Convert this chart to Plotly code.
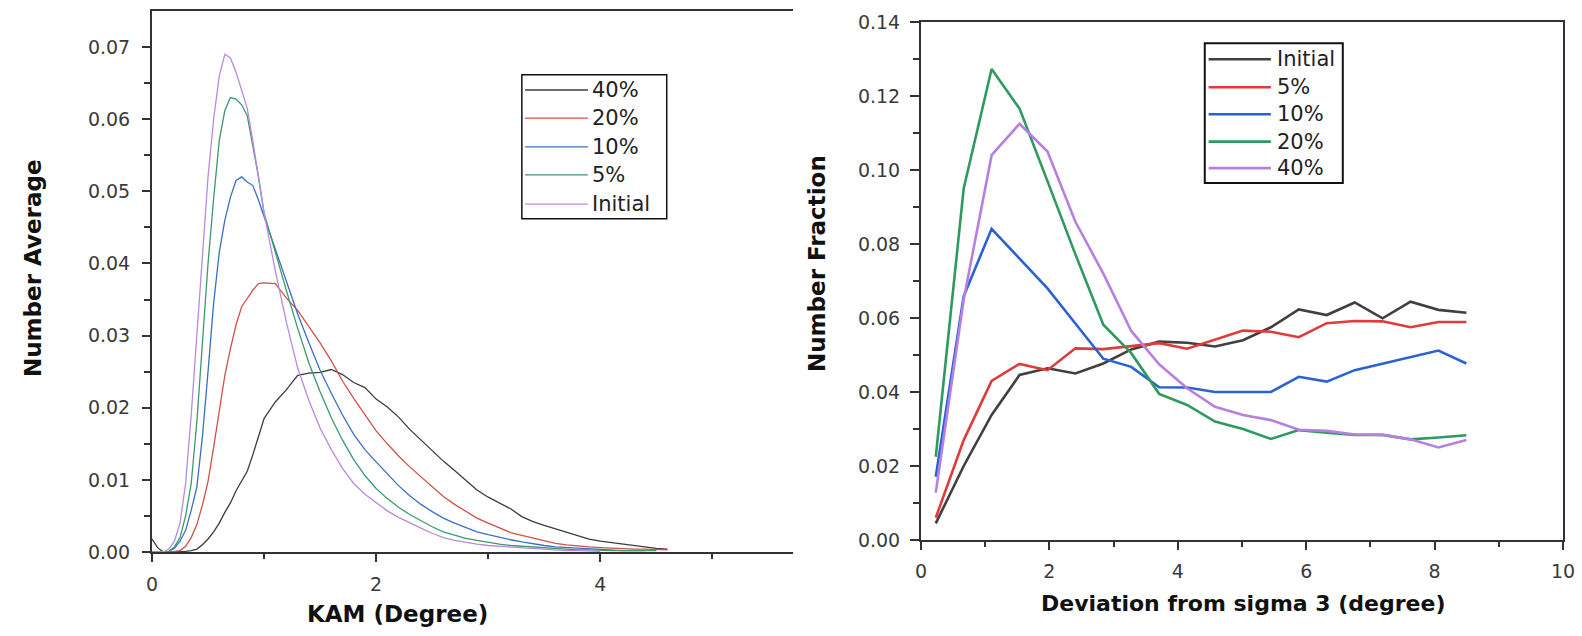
import plotly.graph_objects as go

# ---------------- Left panel: KAM distribution ----------------
KAM_X = [0.00, 0.05, 0.10, 0.15, 0.20, 0.25, 0.30, 0.35, 0.40, 0.45, 0.50, 0.55, 0.60, 0.65,
         0.70, 0.75, 0.80, 0.85, 0.90, 0.95, 1.00, 1.1, 1.2, 1.3, 1.4, 1.5, 1.6, 1.7, 1.8, 1.9,
         2.0, 2.1, 2.2, 2.3, 2.4, 2.5, 2.6, 2.7, 2.8, 2.9, 3.0, 3.1, 3.2, 3.3, 3.4, 3.5, 3.6,
         3.7, 3.8, 3.9, 4.0, 4.1, 4.2, 4.3, 4.4, 4.5, 4.6, 4.7]

KAM_40 = [0.0018, 0.0006, 0.0, 0.0, 0.0, 0.0, 0.0001, 0.0002, 0.0004, 0.0010, 0.0018, 0.0028,
          0.0040, 0.0055, 0.0068, 0.0085, 0.0098, 0.0112, 0.0135, 0.0160, 0.0185, 0.0208, 0.0225,
          0.0245, 0.0248, 0.0249, 0.0253, 0.0246, 0.0235, 0.0228, 0.0212, 0.0201, 0.0187, 0.0170,
          0.0155, 0.0140, 0.0126, 0.0113, 0.0099, 0.0086, 0.0076, 0.0068, 0.0060, 0.0049, 0.0042,
          0.0037, 0.0032, 0.0027, 0.0022, 0.0018, 0.0015, 0.0013, 0.0010, 0.0008, 0.0007, 0.0005,
          0.0004, None]
KAM_20 = [0.0, 0.0, 0.0, 0.0, 0.0001, 0.0002, 0.0008, 0.0020, 0.0038, 0.0065, 0.0098, 0.0145,
          0.0195, 0.0245, 0.0282, 0.0315, 0.0340, 0.0352, 0.0363, 0.0372, 0.0373, 0.0372, 0.0352,
          0.0335, 0.0312, 0.0290, 0.0265, 0.0237, 0.0213, 0.0190, 0.0168, 0.0150, 0.0133, 0.0118,
          0.0104, 0.0090, 0.0077, 0.0066, 0.0056, 0.0047, 0.0040, 0.0033, 0.0027, 0.0023, 0.0019,
          0.0015, 0.0012, 0.0010, 0.0008, 0.0007, 0.0006, 0.0005, 0.0005, 0.0004, 0.0004, 0.0004,
          0.0003, None]
KAM_10 = [0.0, 0.0, 0.0, 0.0001, 0.0005, 0.0015, 0.0030, 0.0058, 0.0090, 0.0160, 0.0250, 0.0345,
          0.0415, 0.0460, 0.0492, 0.0515, 0.0520, 0.0513, 0.0508, 0.0488, 0.0465, 0.0420, 0.0372,
          0.0330, 0.0290, 0.0252, 0.0220, 0.0190, 0.0163, 0.0142, 0.0125, 0.0108, 0.0092, 0.0078,
          0.0066, 0.0056, 0.0047, 0.0040, 0.0034, 0.0028, 0.0024, 0.0020, 0.0017, 0.0014, 0.0011,
          0.0009, 0.0007, 0.0006, 0.0005, 0.0004, 0.0003, 0.0003, 0.0002, 0.0002, 0.0002, None,
          None, None]
KAM_5 = [0.0, 0.0, 0.0, 0.0001, 0.0007, 0.0020, 0.0050, 0.0095, 0.0180, 0.0285, 0.0400, 0.0490,
         0.0570, 0.0612, 0.0630, 0.0628, 0.0620, 0.0605, 0.0565, 0.0520, 0.0470, 0.0415, 0.0362,
         0.0310, 0.0262, 0.0222, 0.0186, 0.0155, 0.0128, 0.0106, 0.0088, 0.0074, 0.0062, 0.0052,
         0.0043, 0.0035, 0.0028, 0.0023, 0.0019, 0.0016, 0.0013, 0.0011, 0.0009, 0.0008, 0.0006,
         0.0005, 0.0004, 0.0004, 0.0003, 0.0003, 0.0002, 0.0002, 0.0002, 0.0002, 0.0002, 0.0002,
         None, None]
KAM_INIT = [0.0, 0.0, 0.0, 0.0004, 0.0015, 0.0040, 0.0095, 0.0190, 0.0300, 0.0420, 0.0520, 0.0600,
            0.0660, 0.0690, 0.0685, 0.0665, 0.0640, 0.0615, 0.0570, 0.0520, 0.0470, 0.0390, 0.0318,
            0.0255, 0.0210, 0.0172, 0.0142, 0.0116, 0.0095, 0.0080, 0.0068, 0.0057, 0.0048, 0.0040,
            0.0033, 0.0026, 0.0020, 0.0016, 0.0013, 0.0011, 0.0009, 0.0008, 0.0006, 0.0005, 0.0004,
            0.0003, 0.0003, 0.0002, 0.0002, 0.0002, 0.0001, None, None, None, None, None, None, None]

LEFT_NAMES = ["40%", "20%", "10%", "5%", "Initial"]
LEFT_SERIES = [KAM_40, KAM_20, KAM_10, KAM_5, KAM_INIT]
LEFT_COLORS = ["#3c3c3c", "#d2504a", "#3b6fc0", "#3a9a6c", "#b98ae0"]

LEFT_YTICKS = [0.00, 0.01, 0.02, 0.03, 0.04, 0.05, 0.06, 0.07]
LEFT_XTICKS = [0, 2, 4]

# ---------------- Right panel: deviation from sigma 3 ----------------
DEV_X = [0.23, 0.665, 1.1, 1.535, 1.97, 2.405, 2.84, 3.275, 3.71, 4.145, 4.58, 5.015, 5.45,
         5.885, 6.32, 6.755, 7.19, 7.625, 8.06, 8.495]
DEV_INIT = [0.0045, 0.0200, 0.0338, 0.0446, 0.0464, 0.0450, 0.0477, 0.0515, 0.0536, 0.0533,
            0.0523, 0.0540, 0.0575, 0.0623, 0.0608, 0.0642, 0.0599, 0.0644, 0.0622, 0.0614]
DEV_5 = [0.0060, 0.0270, 0.0430, 0.0476, 0.0459, 0.0518, 0.0516, 0.0525, 0.0532, 0.0517,
         0.0542, 0.0566, 0.0563, 0.0548, 0.0586, 0.0592, 0.0591, 0.0575, 0.0589, 0.0589]
DEV_10 = [0.0171, 0.0659, 0.0841, 0.0760, 0.0680, 0.0585, 0.0490, 0.0468, 0.0413, 0.0412,
          0.0400, 0.0400, 0.0400, 0.0441, 0.0428, 0.0459, 0.0477, 0.0494, 0.0512, 0.0477]
DEV_20 = [0.0225, 0.0950, 0.1273, 0.1166, 0.0970, 0.0772, 0.0582, 0.0505, 0.0395, 0.0365,
          0.0320, 0.0300, 0.0273, 0.0297, 0.0290, 0.0284, 0.0284, 0.0272, 0.0277, 0.0283]
DEV_40 = [0.0128, 0.0650, 0.1040, 0.1125, 0.1050, 0.0860, 0.0720, 0.0565, 0.0475, 0.0410,
          0.0360, 0.0338, 0.0324, 0.0298, 0.0295, 0.0285, 0.0284, 0.0272, 0.0250, 0.0270]

RIGHT_NAMES = ["Initial", "5%", "10%", "20%", "40%"]
RIGHT_SERIES = [DEV_INIT, DEV_5, DEV_10, DEV_20, DEV_40]
RIGHT_COLORS = ["#404040", "#e03b3b", "#2a63d0", "#2f9a5f", "#b580e0"]

RIGHT_YTICKS = [0.00, 0.02, 0.04, 0.06, 0.08, 0.10, 0.12, 0.14]
RIGHT_XTICKS = [0, 2, 4, 6, 8, 10]

# ---------------- Figure ----------------
W, H = 1582, 636
AX = "#333333"
TICKFONT = dict(family="DejaVu Sans", size=19, color="#3a3a3a")
TITLEFONT = dict(family="DejaVu Sans", size=23, color="#111111")

fig = go.Figure()

for name, ys, col in zip(LEFT_NAMES, LEFT_SERIES, LEFT_COLORS):
    fig.add_trace(go.Scatter(x=KAM_X, y=ys, name=name, mode="lines",
                             line=dict(color=col, width=1.3), xaxis="x", yaxis="y",
                             connectgaps=False))

for name, ys, col in zip(RIGHT_NAMES, RIGHT_SERIES, RIGHT_COLORS):
    fig.add_trace(go.Scatter(x=DEV_X, y=ys, name=name, mode="lines",
                             line=dict(color=col, width=2.6), xaxis="x2", yaxis="y2"))

common_axis = dict(showgrid=False, zeroline=False, showline=True, linecolor=AX, linewidth=2,
                   ticks="outside", tickcolor=AX, tickwidth=2, tickfont=TICKFONT,
                   automargin=False)

fig.update_layout(
    width=W, height=H,
    margin=dict(l=0, r=0, t=0, b=0, pad=0),
    paper_bgcolor="white", plot_bgcolor="white",
    showlegend=False,
    xaxis=dict(domain=[152 / W, 793 / W], range=[0, 5.72], tickvals=LEFT_XTICKS,
               ticktext=[str(v) for v in LEFT_XTICKS], ticklen=8, mirror=True,
               ticklabelstandoff=6,
               minor=dict(tickvals=[1, 3, 5], ticks="outside", ticklen=5, tickwidth=2,
                          tickcolor=AX),
               **common_axis),
    yaxis=dict(domain=[84 / H, 625 / H], range=[0, 0.075], tickvals=LEFT_YTICKS,
               ticktext=[f"{v:.2f}" for v in LEFT_YTICKS], ticklen=8, mirror=False,
               ticklabelstandoff=8,
               minor=dict(tickvals=[0.005, 0.015, 0.025, 0.035, 0.045, 0.055, 0.065],
                          ticks="outside", ticklen=6, tickwidth=2, tickcolor=AX),
               **common_axis),
    xaxis2=dict(domain=[921 / W, 1563 / W], range=[0, 10], tickvals=RIGHT_XTICKS,
                ticktext=[str(v) for v in RIGHT_XTICKS], ticklen=8, mirror=True,
                ticklabelstandoff=5,
                minor=dict(tickvals=[1, 3, 5, 7, 9], ticks="outside", ticklen=5, tickwidth=2,
                           tickcolor=AX),
                anchor="y2", **common_axis),
    yaxis2=dict(domain=[96 / H, 614 / H], range=[0, 0.14], tickvals=RIGHT_YTICKS,
                ticktext=[f"{v:.2f}" for v in RIGHT_YTICKS], ticklen=9, mirror=True,
                ticklabelstandoff=6,
                minor=dict(tickvals=[0.01, 0.03, 0.05, 0.07, 0.09, 0.11, 0.13],
                           ticks="outside", ticklen=6, tickwidth=2, tickcolor=AX),
                anchor="x2", **common_axis),
)

# Axis titles
annotations = [
    dict(text="<b>KAM (Degree)</b>", x=397 / W, y=1 - 614 / H, xref="paper", yref="paper",
         showarrow=False, font=TITLEFONT, xanchor="center", yanchor="middle"),
    dict(text="<b>Number Average</b>", x=33 / W, y=1 - 268 / H, xref="paper", yref="paper",
         showarrow=False, font=TITLEFONT, textangle=-90, xanchor="center", yanchor="middle"),
    dict(text="<b>Deviation from sigma 3 (degree)</b>", x=1243 / W, y=1 - 603 / H,
         xref="paper", yref="paper", showarrow=False,
         font=dict(family="DejaVu Sans", size=22, color="#111111"),
         xanchor="center", yanchor="middle"),
    dict(text="<b>Number Fraction</b>", x=817 / W, y=1 - 264 / H, xref="paper", yref="paper",
         showarrow=False, font=TITLEFONT, textangle=-90, xanchor="center", yanchor="middle"),
]
shapes = []

LEGFONT = dict(family="DejaVu Sans", size=21, color="#222222")

# Left legend (box + line samples + labels), in axis-domain coordinates
shapes.append(dict(type="rect", xref="x domain", yref="y domain", x0=0.577, x1=0.803,
                   y0=0.616, y1=0.882, line=dict(color="#111111", width=1.5)))
left_rows = [0.854, 0.802, 0.749, 0.697, 0.643]
for name, col, yy in zip(LEFT_NAMES, LEFT_COLORS, left_rows):
    shapes.append(dict(type="line", xref="x domain", yref="y domain", x0=0.582, x1=0.680,
                       y0=yy, y1=yy, line=dict(color=col, width=1.3)))
    annotations.append(dict(text=name, xref="x domain", yref="y domain", x=0.684, y=yy,
                            xanchor="left", yanchor="middle", showarrow=False, font=LEGFONT))

# Right legend
shapes.append(dict(type="rect", xref="x2 domain", yref="y2 domain", x0=0.442, x1=0.657,
                   y0=0.689, y1=0.959, line=dict(color="#111111", width=2)))
right_rows = [0.928, 0.874, 0.822, 0.769, 0.718]
for name, col, yy in zip(RIGHT_NAMES, RIGHT_COLORS, right_rows):
    shapes.append(dict(type="line", xref="x2 domain", yref="y2 domain", x0=0.448, x1=0.545,
                       y0=yy, y1=yy, line=dict(color=col, width=2.6)))
    annotations.append(dict(text=name, xref="x2 domain", yref="y2 domain", x=0.552, y=yy,
                            xanchor="left", yanchor="middle", showarrow=False, font=LEGFONT))

fig.update_layout(annotations=annotations, shapes=shapes)

# remove the default page margin so the figure sits at the window origin
fig.write_html("out.html",
               config={"displayModeBar": False, "staticPlot": True},
               post_script="document.body.style.margin='0';"
                           "document.body.style.overflow='hidden';")
